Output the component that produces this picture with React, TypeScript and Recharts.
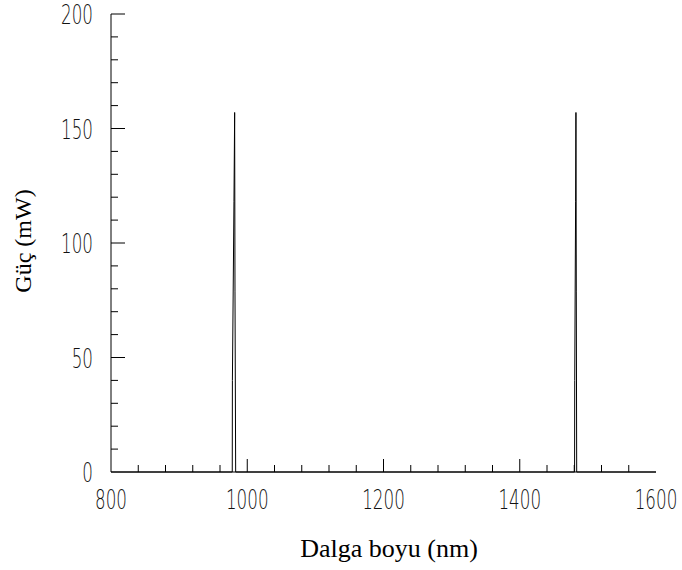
import { Line, LineChart, XAxis, YAxis } from 'recharts'

// spectrum samples (nm, mW) - two pump lines near 980 and 1480 nm
const wavelengths = [800, 978, 978.2, 980.5, 981.5, 982, 983, 1480.5, 1480.7, 1482, 1482.5, 1483, 1483.6, 1600]
const powers = [0, 0, 40, 118, 157, 79, 0, 0, 40, 118, 157, 79, 0, 0]

const xTicks = [800, 840, 880, 920, 960, 1000, 1040, 1080, 1120, 1160, 1200, 1240, 1280, 1320, 1360, 1400, 1440, 1480, 1520, 1560, 1600]
const yTicks = [0, 10, 20, 30, 40, 50, 60, 70, 80, 90, 100, 110, 120, 130, 140, 150, 160, 170, 180, 190, 200]

const data = wavelengths.map((w, i) => ({ nm: w, mw: powers[i] }))

const tickFont = {
    fontFamily: 'DejaVu Sans',
    fontWeight: 200,
    fontSize: 27,
    fill: '#111',
}

const XTick = (props: any) => {
    const { x, y, payload } = props
    const v = payload.value
    const major = v % 200 === 0
    return (
        <g>
            {v !== 1600 && v !== 800 && (
                <line x1={x} y1={y} x2={x} y2={y - (major ? 13 : 7)} stroke="#000" />
            )}
            {major && (
                <text transform={`translate(${x},${y + 37}) scale(0.62,1)`} textAnchor="middle" {...tickFont}>
                    {v}
                </text>
            )}
        </g>
    )
}

const YTick = (props: any) => {
    const { x, y, payload } = props
    const v = payload.value
    const major = v % 50 === 0
    return (
        <g>
            {v !== 0 && (
                <line x1={x} y1={y} x2={x + (major ? 14 : 7)} y2={y} stroke="#000" />
            )}
            {major && (
                <text transform={`translate(${x - 18},${y + 10}) scale(0.62,1)`} textAnchor="end" {...tickFont}>
                    {v}
                </text>
            )}
        </g>
    )
}

const App = () => {
    return (
        <div style={{ position: 'absolute', left: 0, top: 0, width: 682, height: 570, background: '#fff' }}>
            <LineChart width={682} height={570} data={data} margin={{ top: 14, right: 26, left: 0, bottom: 0 }}>
                <XAxis
                    dataKey="nm"
                    type="number"
                    domain={[800, 1600]}
                    ticks={xTicks}
                    interval={0}
                    height={98}
                    tickSize={0}
                    tickMargin={0}
                    tickLine={false}
                    axisLine={{ stroke: '#000' }}
                    tick={<XTick />}
                    label={() => (
                        <text x={389} y={557} textAnchor="middle" fontFamily="Liberation Serif" fontWeight={400} fontSize={26} fill="#000">
                            Dalga boyu (nm)
                        </text>
                    )}
                />
                <YAxis
                    type="number"
                    domain={[0, 200]}
                    ticks={yTicks}
                    interval={0}
                    width={111}
                    tickSize={0}
                    tickMargin={0}
                    tickLine={false}
                    axisLine={{ stroke: '#000' }}
                    tick={<YTick />}
                    label={() => (
                        <text
                            x={31}
                            y={241}
                            transform="rotate(-90, 31, 241)"
                            textAnchor="middle"
                            fontFamily="Liberation Serif"
                            fontWeight={400}
                            fontSize={24}
                            fill="#000"
                        >
                            Güç (mW)
                        </text>
                    )}
                />
                <Line
                    type="linear"
                    dataKey="mw"
                    stroke="#000"
                    strokeWidth={1}
                    dot={false}
                    isAnimationActive={false}
                />
            </LineChart>
        </div>
    )
}

export default App
